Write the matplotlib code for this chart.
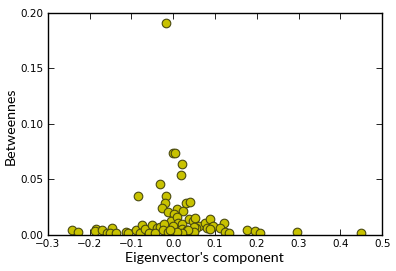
import matplotlib
matplotlib.use("Agg")
import matplotlib.pyplot as plt

# eigenvector component vs betweenness
eigen = [-0.018, -0.0005, 0.004, 0.021, 0.019, -0.032, -0.018, -0.084, -0.020, -0.028,
         -0.012, 0.009, 0.024, 0.030, 0.040, 0.001, -0.005, 0.009, 0.012, 0.020,
         0.037, 0.047, 0.053, 0.062, 0.054, 0.050, 0.077, 0.081, 0.089, 0.095,
         0.088, 0.122, 0.113, 0.124, 0.134, 0.176, 0.196, 0.207, 0.297, 0.450,
         -0.243, -0.228, -0.184, -0.188, -0.171, -0.159, -0.147, -0.152, -0.137, -0.112,
         -0.109, -0.088, -0.074, -0.080, -0.067, -0.051, -0.040, -0.032, -0.059, -0.044,
         -0.022, -0.024, -0.012, -0.0005, -0.0005, 0.022, 0.032, 0.050, 0.036, 0.020,
         0.008, -0.007]
betw = [0.191, 0.074, 0.074, 0.064, 0.054, 0.046, 0.035, 0.035, 0.029, 0.024,
        0.021, 0.023, 0.022, 0.029, 0.030, 0.019, 0.013, 0.016, 0.011, 0.0096,
        0.0146, 0.013, 0.015, 0.0084, 0.0066, 0.0075, 0.011, 0.0066, 0.014, 0.0078,
        0.0057, 0.011, 0.006, 0.003, 0.0015, 0.0042, 0.0036, 0.0015, 0.0024, 0.0015,
        0.0045, 0.0027, 0.0057, 0.004, 0.0042, 0.0015, 0.006, 0.002, 0.0015, 0.003,
        0.0018, 0.0045, 0.009, 0.002, 0.005, 0.0087, 0.006, 0.007, 0.0015, 0.002,
        0.0096, 0.0045, 0.003, 0.008, 0.0015, 0.0054, 0.0045, 0.003, 0.0045, 0.002,
        0.003, 0.0045]

xticks = [-0.3, -0.2, -0.1, 0.0, 0.1, 0.2, 0.3, 0.4, 0.5]
yticks = [0.00, 0.05, 0.10, 0.15, 0.20]

fig = plt.figure(figsize=(3.96, 2.71), dpi=100)
ax = fig.add_axes([0.121, 0.133, 0.844, 0.820])

ax.plot(eigen, betw, 'o', color='#c8c200', markeredgecolor='#4a4a10',
        markeredgewidth=0.8, markersize=6.2, linestyle='none')

ax.set_xlim(-0.3, 0.5)
ax.set_ylim(0, 0.2)
ax.set_xticks(xticks)
ax.set_xticklabels(['\u22120.3', '\u22120.2', '\u22120.1', '0.0', '0.1', '0.2', '0.3', '0.4', '0.5'])
ax.set_yticks(yticks)
ax.set_yticklabels(['%.2f' % v for v in yticks])
ax.tick_params(direction='in', top=True, right=True, length=4, width=0.6,
               labelsize=7.5, pad=3)
for s in ax.spines.values():
    s.set_linewidth(1.0)

ax.set_xlabel("Eigenvector's component", family='Lato', fontsize=10.3)
ax.set_ylabel("Betweennes", family='Lato', fontsize=10.3)
ax.xaxis.set_label_coords(0.467, -0.075)
ax.yaxis.set_label_coords(-0.093, 0.49)

fig.savefig('out.png', dpi=100)
